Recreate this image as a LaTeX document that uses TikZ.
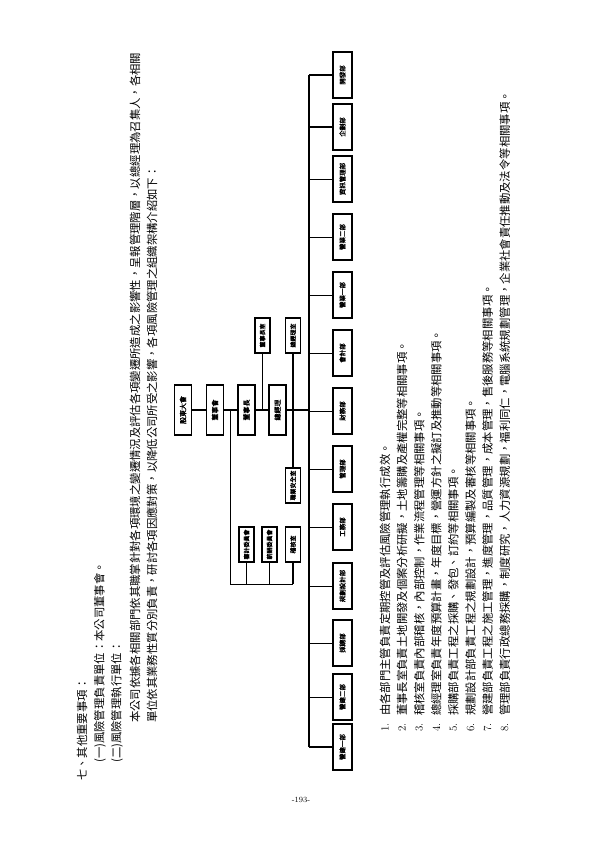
\documentclass[tikz,border=0pt]{standalone}
\usepackage{fontspec}
\newfontfamily\cjk{Noto Sans CJK TC}
\newfontfamily\cjkb[FakeBold=1.5]{Noto Sans CJK TC}
\begin{document}
\begin{tikzpicture}[x=1bp,y=-1bp,
  txt/.style={rotate=90,anchor=west,inner sep=0pt,font=\cjk\fontsize{11.4}{13}\selectfont},
  org/.style={draw,line width=1.8pt,rotate=90,inner sep=0pt,minimum width=50bp,
              minimum height=17bp,font=\cjkb\fontsize{7}{8}\selectfont},
  subbox/.style={org,minimum width=35bp,minimum height=15bp,font=\cjkb\fontsize{6}{7}\selectfont},
  dept/.style={draw,line width=1.1pt,rotate=90,inner sep=0pt,minimum width=46bp,
               minimum height=19bp,font=\cjkb\fontsize{6.5}{7}\selectfont},
  bus/.style={line width=1.8pt},
  lnk/.style={line width=0.8pt}]
  \fill[white] (0,0) rectangle (595,842);
  \useasboundingbox (0,0) rectangle (595,842);

  % heading and introduction
  \node[txt] (h1) at (82,781) {七、其他重要事項：};
  \node[txt] (h2) at (100,763) {(一)風險管理負責單位：本公司董事會。};
  \node[txt] (h3) at (117,763) {(二)風險管理執行單位：};
  \node[txt] (h4) at (135,723) {本公司依據各相關部門依其職掌針對各項環境之變遷情況及評估各項變遷所造成之影響性，呈報管理階層，以總經理為召集人，各相關};
  \node[txt] (h5) at (152,723) {單位依其業務性質分別負責，研討各項因應對策，以降低公司所受之影響，各項風險管理之組織架構介紹如下：};

  % organisation chart
  \node[org] (gm) at (183,410) {股東大會};
  \node[org] (bd) at (215,410) {董事會};
  \node[org] (ch) at (246.5,410) {董事長};
  \node[org] (pr) at (277.5,410) {總經理};
  \node[subbox] (chof) at (262.5,335.5) {董事長室};
  \node[subbox] (prof) at (293,335.5) {總經理室};
  \node[subbox] (safe) at (293,485.5) {職業安全室};
  \node[subbox] (aud) at (246.5,544.5) {審計委員會};
  \node[subbox] (pay) at (269.5,544.5) {薪酬委員會};
  \node[subbox] (ins) at (293,544.5) {稽核室};
  \coordinate (bus) at (309,0);
  \coordinate (lj) at (230,410);
  \coordinate (ld) at (230,584);

  \foreach \n/\y/\t in {d1/75/開發部,d2/127/企劃部,d3/179/資訊管理部,d4/237/營業二部,
      d5/295/營業一部,d6/353/會計部,d7/411/財務部,d8/469/管理部,d9/527/工務部,
      d10/586/規劃設計部,d11/643/採購部,d12/697/營建二部,d13/747/營建一部}
    \node[dept] (\n) at (342.5,\y) {\t};

  \draw[bus] (d1 -| bus) -- (d13 -| bus);
  \foreach \n in {d1,d2,d13}
    \draw[bus] (\n) -- (\n -| bus);
  \foreach \n in {d3,d4,d5,d6,d7,d8,d9,d10,d11,d12}
    \draw[lnk] (\n) -- (\n -| bus);

  \draw[bus] (gm) -- (bd);
  \draw[bus] (bd) -- (ch);
  \draw[bus] (ch) -- (pr);
  \draw[bus] (pr) -- (pr -| bus);
  \draw[bus] (chof) -- (chof |- ch);
  \draw[bus] (prof) -- (safe);
  \draw[lnk] (lj) -- (ld) -- (ins |- ld);
  \foreach \c in {aud,pay}
    \draw[lnk] (\c) -- (\c |- ld);
  \draw[bus] (ins) -- (ins |- ld);

  % numbered duties
  \foreach \i/\t in {1/{由各部門主管負責定期控管及評估風險管理執行成效。},
      2/{董事長室負責土地開發及個案分析研擬，土地籌購及產權完整等相關事項。},
      3/{稽核室負責內部稽核，內部控制，作業流程管理等相關事項。},
      4/{總經理室負責年度預算計畫，年度目標，營運方針之擬訂及推動等相關事項。},
      5/{採購部負責工程之採購、發包、訂約等相關事項。},
      6/{規劃設計部負責工程之規劃設計，預算編製及審核等相關事項。},
      7/{營建部負責工程之施工管理，進度管理，品質管理，成本管理，售後服務等相關事項。},
      8/{管理部負責行政總務採購，制度研究，人力資源規劃，福利同仁，電腦系統規劃管理，企業社會責任推動及法令等相關事項。}}
  {
    \node[txt,font=\fontsize{11}{13}\selectfont] (n\i) at ({385+17.1*(\i-1)},732) {\i.};
    \node[txt] (t\i) at ({385+17.1*(\i-1)},716) {\t};
  }

  \node[font=\fontsize{8}{9}\selectfont] (pg) at (301,800) {-193-};
\end{tikzpicture}
\end{document}
